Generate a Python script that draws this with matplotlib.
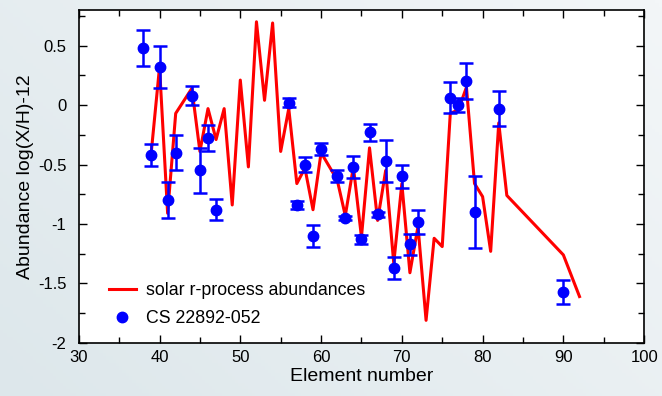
import matplotlib
matplotlib.use('Agg')
import matplotlib.pyplot as plt
import numpy as np
from matplotlib.lines import Line2D
from matplotlib.ticker import MultipleLocator

# solar r-process abundances (scaled)
solar_z = [39, 40, 41, 42, 44, 45, 46, 47, 48, 49, 50, 51, 52, 53, 54, 55, 56, 57, 58, 59, 60,
           62, 63, 64, 65, 66, 67, 68, 69, 70, 71, 72, 73, 74, 75, 76, 77, 78, 79, 80, 81, 82, 83,
           90, 92]
solar_ab = [-0.38, 0.32, -0.91, -0.07, 0.14, -0.39, -0.03, -0.29, -0.03, -0.84, 0.21, -0.52, 0.70,
            0.04, 0.69, -0.39, -0.03, -0.66, -0.53, -0.88, -0.40,
            -0.63, -0.93, -0.52, -1.11, -0.36, -0.97, -0.55, -1.33, -0.66, -1.41, -1.02, -1.81,
            -1.12, -1.19, -0.07, -0.04, 0.15, -0.66, -0.77, -1.23, -0.15, -0.76,
            -1.26, -1.61]

# CS 22892-052 observations
star_z = [38, 39, 40, 41, 42, 44, 45, 46, 47, 56, 57, 58, 59, 60, 62, 63, 64, 65, 66, 67, 68,
          69, 70, 71, 72, 76, 77, 78, 79, 82, 90]
star_ab = [0.48, -0.42, 0.32, -0.80, -0.40, 0.08, -0.55, -0.28, -0.88, 0.02, -0.84, -0.50, -1.10,
           -0.37, -0.60, -0.95, -0.52, -1.13, -0.23, -0.92, -0.47,
           -1.37, -0.60, -1.17, -0.98, 0.06, 0.00, 0.20, -0.90, -0.03, -1.57]
star_err = [0.15, 0.09, 0.18, 0.15, 0.15, 0.08, 0.19, 0.11, 0.09, 0.04, 0.03, 0.06, 0.09,
            0.05, 0.05, 0.02, 0.09, 0.04, 0.07, 0.02, 0.18,
            0.09, 0.10, 0.09, 0.10, 0.13, 0.06, 0.15, 0.30, 0.15, 0.10]

plt.rcParams['font.family'] = ['Liberation Sans', 'DejaVu Sans']

fig = plt.figure(figsize=(6.62, 3.96), dpi=100)

# soft slide-like background
bg = fig.add_axes([0, 0, 1, 1], zorder=-1)
gx, gy = np.meshgrid(np.linspace(0, 1, 200), np.linspace(0, 1, 120))
bg.imshow(0.6 * gx + 0.4 * gy, cmap=matplotlib.colors.LinearSegmentedColormap.from_list(
    'bg', ['#dde7eb', '#f3f6f8']), aspect='auto', origin='lower', extent=[0, 1, 0, 1])
bg.axis('off')

ax = fig.add_axes([0.119, 0.134, 0.854, 0.841])
ax.set_facecolor('white')

ax.plot(solar_z, solar_ab, color='#ff0000', lw=2.2, zorder=2)
ax.errorbar(star_z, star_ab, yerr=star_err, fmt='o', color='#0000ff', ms=7.5,
            elinewidth=1.8, capsize=5, capthick=1.8, zorder=3)

ax.set_xlim(30, 100)
ax.set_ylim(-2, 0.8)
ax.xaxis.set_major_locator(MultipleLocator(10))
ax.xaxis.set_minor_locator(MultipleLocator(5))
ax.yaxis.set_minor_locator(MultipleLocator(0.25))
ax.set_yticks([-2, -1.5, -1, -0.5, 0, 0.5])
ax.set_yticklabels(['-2', '-1.5', '-1', '-0.5', '0', '0.5'])
ax.tick_params(which='both', direction='in', top=True, right=True, labelsize=12, width=1)
ax.tick_params(which='major', length=6)
ax.tick_params(which='minor', length=4)
ax.tick_params(axis='y', pad=9)
ax.tick_params(axis='x', pad=5)
for s in ax.spines.values():
    s.set_linewidth(1.2)

ax.set_xlabel('Element number', fontsize=14, labelpad=2)
ax.set_ylabel('Abundance log(X/H)-12', fontsize=14, labelpad=3)

handles = [Line2D([], [], color='#ff0000', lw=2.2),
           Line2D([], [], color='#0000ff', marker='o', ms=7.5, ls='none')]
ax.legend(handles, ['solar r-process abundances', 'CS 22892-052'], loc='lower left',
          frameon=False, fontsize=12.8, handlelength=1.5, handletextpad=0.6,
          labelspacing=0.6, bbox_to_anchor=(0.025, 0.0))

fig.savefig('out.png', dpi=100)
